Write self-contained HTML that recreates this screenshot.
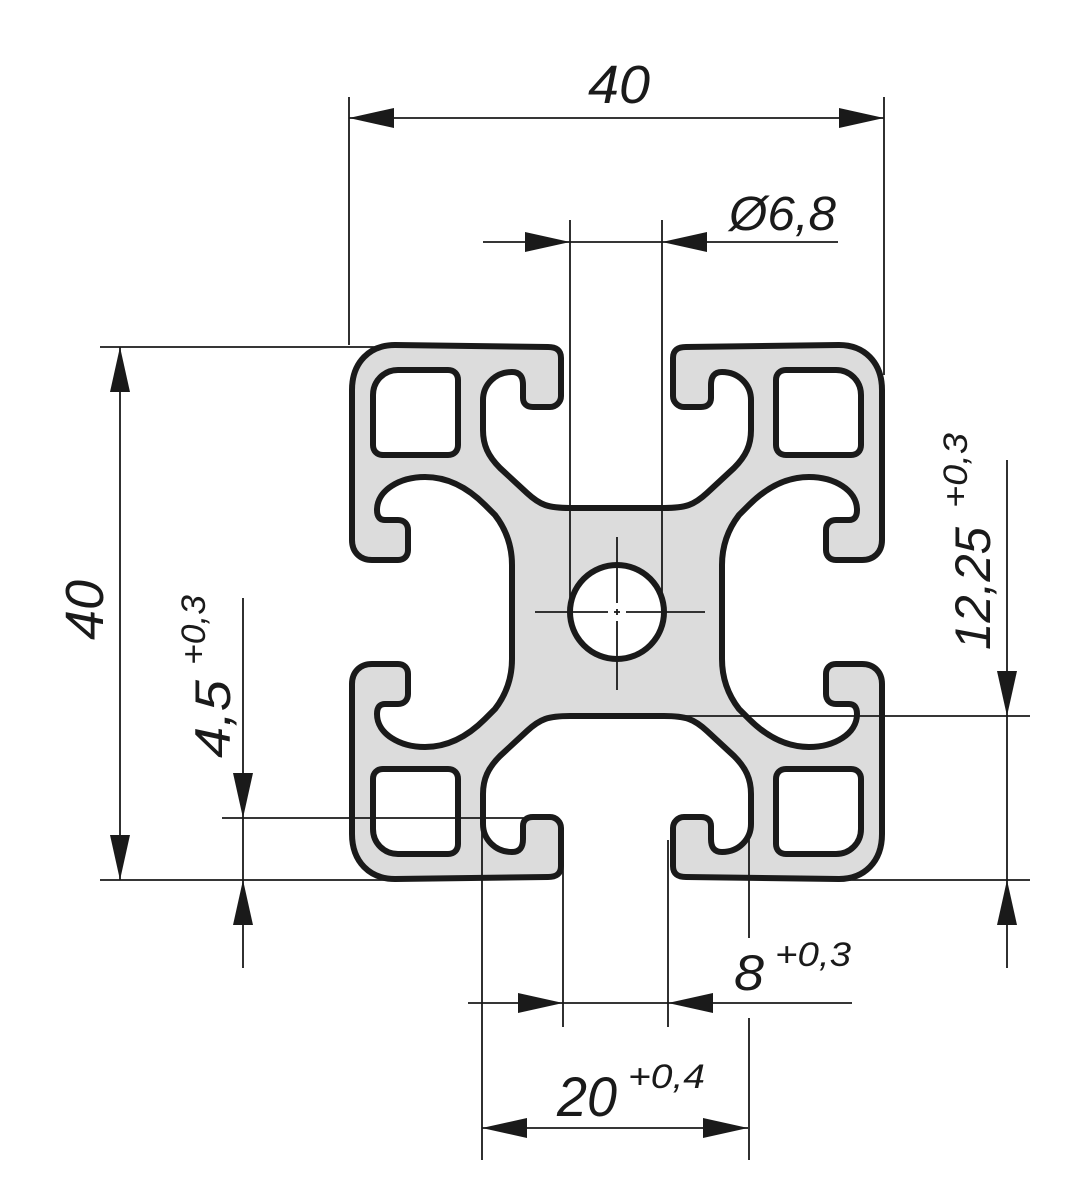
<!DOCTYPE html>
<html><head><meta charset="utf-8"><style>
html,body{margin:0;padding:0;background:#fff;}
svg{display:block;}
text{font-family:"Liberation Sans",sans-serif;font-style:italic;fill:#1a1a1a;}
</style></head><body>
<svg width="1078" height="1200" viewBox="0 0 1078 1200" xmlns="http://www.w3.org/2000/svg">
<defs>
<path id="qf" d="M617,508 L570,508 C548,508 540,505 527,493 L500,468 C488,456 483,445 483,430 L483,400 C483,385 495,372 512,372 C520,372 523,377 523,385 L523,398 C523,404 527,407 533,407 L550,407 C556,407 561,402 561,396 L561,358 C561,350 556,347 548,347 L395,345 C370,345 352,362 352,390 L352,540 C352,552 360,560 372,560 L398,560 C404,560 408,556 408,550 L408,530 C408,524 404,520 398,520 L385,520 C380,520 377,517 377,510 C377,490 400,477 425,477 C450,477 470,490 485,505 L495,515 C505,528 512,545 512,565 L512,612 L617,612 Z"/>
<path id="qs" d="M617,508 L570,508 C548,508 540,505 527,493 L500,468 C488,456 483,445 483,430 L483,400 C483,385 495,372 512,372 C520,372 523,377 523,385 L523,398 C523,404 527,407 533,407 L550,407 C556,407 561,402 561,396 L561,358 C561,350 556,347 548,347 L395,345 C370,345 352,362 352,390 L352,540 C352,552 360,560 372,560 L398,560 C404,560 408,556 408,550 L408,530 C408,524 404,520 398,520 L385,520 C380,520 377,517 377,510 C377,490 400,477 425,477 C450,477 470,490 485,505 L495,515 C505,528 512,545 512,565 L512,612"/>
<path id="sq" d="M398,370 L448,370 C454,370 458,374 458,380 L458,445 C458,451 454,455 448,455 L383,455 C377,455 373,451 373,445 L373,395 C373,381 384,370 398,370 Z"/>
<g id="quad">
<use href="#qf" fill="#dcdcdc"/>
<use href="#qs" fill="none" stroke="#1a1a1a" stroke-width="6" stroke-linejoin="round"/>
<use href="#sq" fill="#fff" stroke="#1a1a1a" stroke-width="6"/>
</g>
</defs>
<use href="#quad"/>
<g transform="translate(1234,0) scale(-1,1)"><use href="#quad"/></g>
<g transform="translate(0,1224) scale(1,-1)"><use href="#quad"/></g>
<g transform="translate(1234,1224) scale(-1,-1)"><use href="#quad"/></g>
<circle cx="617" cy="612" r="47" fill="#fff" stroke="#1a1a1a" stroke-width="6"/>
<g stroke="#1a1a1a" stroke-width="1.8" fill="none">
<line x1="535" y1="612" x2="608" y2="612"/><line x1="614" y1="612" x2="620" y2="612"/><line x1="626" y1="612" x2="705" y2="612"/>
<line x1="617" y1="537" x2="617" y2="603"/><line x1="617" y1="609" x2="617" y2="615"/><line x1="617" y1="621" x2="617" y2="690"/>
<line x1="349" y1="97" x2="349" y2="345"/><line x1="884" y1="97" x2="884" y2="375"/>
<line x1="570" y1="220" x2="570" y2="600"/><line x1="662" y1="220" x2="662" y2="600"/>
<line x1="100" y1="347" x2="375" y2="347"/><line x1="100" y1="880" x2="385" y2="880"/>
<line x1="222" y1="818" x2="530" y2="818"/>
<line x1="668" y1="716" x2="1030" y2="716"/><line x1="840" y1="880" x2="1030" y2="880"/>
<line x1="563" y1="840" x2="563" y2="1027"/><line x1="668" y1="840" x2="668" y2="1027"/>
<line x1="482" y1="800" x2="482" y2="1160"/>
<line x1="749" y1="820" x2="749" y2="938"/><line x1="749" y1="1018" x2="749" y2="1160"/>
<line x1="349" y1="118" x2="884" y2="118"/>
<line x1="483" y1="242" x2="838" y2="242"/>
<line x1="120" y1="347" x2="120" y2="880"/>
<line x1="243" y1="598" x2="243" y2="968"/>
<line x1="1007" y1="460" x2="1007" y2="968"/>
<line x1="468" y1="1003" x2="852" y2="1003"/>
<line x1="482" y1="1128" x2="748" y2="1128"/>
</g>
<g fill="#1a1a1a">
<polygon points="349,118 394,108 394,128"/><polygon points="884,118 839,108 839,128"/>
<polygon points="570,242 525,232 525,252"/><polygon points="662,242 707,232 707,252"/>
<polygon points="120,347 110,392 130,392"/><polygon points="120,880 110,835 130,835"/>
<polygon points="243,818 233,773 253,773"/><polygon points="243,880 233,925 253,925"/>
<polygon points="1007,716 997,671 1017,671"/><polygon points="1007,880 997,925 1017,925"/>
<polygon points="563,1003 518,993 518,1013"/><polygon points="668,1003 713,993 713,1013"/>
<polygon points="482,1128 527,1118 527,1138"/><polygon points="748,1128 703,1118 703,1138"/>
</g>
<text x="588" y="103" font-size="54" textLength="62" lengthAdjust="spacingAndGlyphs">40</text>
<text x="729" y="230" font-size="48" textLength="107" lengthAdjust="spacingAndGlyphs">Ø6,8</text>
<text transform="translate(103,640) rotate(-90)" font-size="54" textLength="60" lengthAdjust="spacingAndGlyphs">40</text>
<text transform="translate(230,758) rotate(-90)" font-size="50" textLength="78" lengthAdjust="spacingAndGlyphs">4,5</text>
<text transform="translate(205,665) rotate(-90)" font-size="34" textLength="70" lengthAdjust="spacingAndGlyphs">+0,3</text>
<text transform="translate(990,650) rotate(-90)" font-size="50" textLength="123" lengthAdjust="spacingAndGlyphs">12,25</text>
<text transform="translate(967,508) rotate(-90)" font-size="34" textLength="75" lengthAdjust="spacingAndGlyphs">+0,3</text>
<text x="734" y="990" font-size="50" textLength="30" lengthAdjust="spacingAndGlyphs">8</text>
<text x="775" y="966" font-size="34" textLength="76" lengthAdjust="spacingAndGlyphs">+0,3</text>
<text x="557" y="1116" font-size="56" textLength="60" lengthAdjust="spacingAndGlyphs">20</text>
<text x="628" y="1088" font-size="34" textLength="77" lengthAdjust="spacingAndGlyphs">+0,4</text>
</svg>
</body></html>
